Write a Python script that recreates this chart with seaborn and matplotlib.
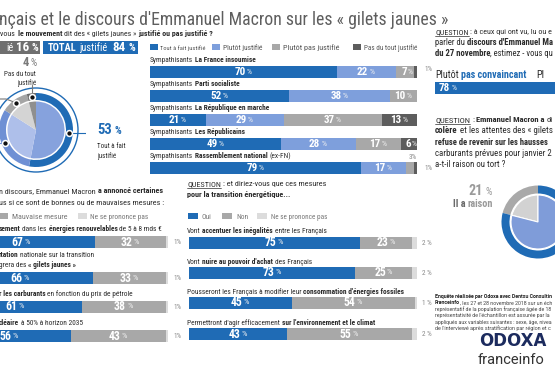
import numpy as np
import pandas as pd
import matplotlib
matplotlib.use("Agg")
import matplotlib.pyplot as plt
import seaborn as sns
from matplotlib import font_manager as fm
from matplotlib.patches import Rectangle, Circle
from matplotlib.lines import Line2D
from matplotlib.transforms import offset_copy

# ---------------- data ----------------
pie_labels = ["Tout à fait justifié", "Plutôt justifié", "Plutôt pas justifié", "Pas du tout justifié"]
pie_values = [53, 31, 12, 4]
total_justifie = 84
total_pas_justifie = 16

parties = ["La France insoumise", "Parti socialiste", "La République en marche",
           "Les Républicains", "Rassemblement national"]
party_tout = [70, 52, 21, 49, 79]
party_plutot = [22, 38, 29, 28, 17]
party_plutot_pas = [7, 10, 37, 17, 3]
party_pas_du_tout = [1, 0, 13, 6, 1]

mesures = ["renouvelables", "concertation", "carburants", "nucleaire"]
mesures_bonne = [67, 66, 61, 56]
mesures_mauvaise = [32, 33, 38, 43]
mesures_nsp = [1, 1, 1, 1]

transition = ["inegalites", "pouvoir", "fossiles", "climat"]
transition_oui = [75, 73, 45, 43]
transition_non = [23, 25, 54, 55]
transition_nsp = [2, 2, 1, 2]

convaincant_pas = [78]
raison_labels = ["Il a raison", "Il a tort"]
raison_values = [21, 79]

# ---------------- style ----------------
sns.set_style("white")
all_fonts = fm.fontManager.ttflist
names = {f.name for f in all_fonts}


def _wnum(w):
    if isinstance(w, (int, float)):
        return w
    return fm.weight_dict.get(str(w), 400)


def has_bold(n):
    return any(f.name == n and _wnum(f.weight) >= 600 for f in all_fonts)


def has_regular(n):
    return any(f.name == n and 350 <= _wnum(f.weight) <= 500 and f.style == "normal" for f in all_fonts)


preferred = ["Liberation Sans Narrow", "DejaVu Sans Condensed", "Noto Sans Condensed",
             "Roboto Condensed", "Open Sans Condensed", "Ubuntu Condensed"]
others = sorted({f.name for f in all_fonts if ("Narrow" in f.name or "Condensed" in f.name)})
FONT = None
for n in preferred + others:
    if n in names and has_bold(n) and has_regular(n):
        FONT = n
        break
if FONT is None:
    FONT = "Roboto" if "Roboto" in names else "Liberation Sans"
WIDE = "Roboto" if "Roboto" in names else "DejaVu Sans"
plt.rcParams["font.family"] = [FONT, "DejaVu Sans"]

BLUE = "#1f6bb5"
MBLUE = "#7e9fdc"
GRAY = "#a8a8a8"
DGRAY = "#5d5d5d"
LGRAY = "#dcdcdc"
TXT = "#2b2b2b"
PGRAY = "#8a8a8a"

W, H = 555, 370
fig = plt.figure(figsize=(W / 100, H / 100), dpi=100)
fig.patch.set_facecolor("white")
R = fig.canvas.get_renderer()


def axes_px(x0, y0, x1, y1):
    return fig.add_axes([x0 / W, 1 - y1 / H, (x1 - x0) / W, (y1 - y0) / H])


def rect_px(x0, y0, x1, y1, color):
    fig.add_artist(Rectangle((x0 / W, 1 - y1 / H), (x1 - x0) / W, (y1 - y0) / H,
                             transform=fig.transFigure, facecolor=color, edgecolor="none"))


def _w(t):
    return t.get_window_extent(R).width


_sw_cache = {}


def space_w(size, weight, fam):
    key = (round(size, 3), weight, str(fam))
    if key not in _sw_cache:
        a = fig.text(0, 0, "a a", fontsize=size, fontweight=weight, family=fam)
        b = fig.text(0, 0, "aa", fontsize=size, fontweight=weight, family=fam)
        _sw_cache[key] = _w(a) - _w(b)
        a.remove()
        b.remove()
    return _sw_cache[key]


def rich(x, y, parts, size, tw=None, ha="left", va="baseline", family=None, dry=False):
    """parts: (text, weight, color[, options]); x, y in pixels (y from top, baseline)."""
    fam = family if family is not None else [FONT, "DejaVu Sans"]

    def draw(sz, x0):
        objs = []
        cx = x0
        for p in parts:
            s, wt, col = p[0], p[1], p[2]
            opt = p[3] if len(p) > 3 else {}
            fs = sz * opt.get("scale", 1.0)
            sw = space_w(fs, wt, fam)
            lead = len(s) - len(s.lstrip(" "))
            trail = len(s) - len(s.rstrip(" "))
            core = s.strip(" ")
            cx += lead * sw
            if core:
                t = fig.text(cx / W, 1 - y / H, core, fontsize=fs, fontweight=wt,
                             color=col, va=va, ha="left", family=fam)
                objs.append(t)
                wd = _w(t)
                if opt.get("underline"):
                    ln = Line2D([cx / W, (cx + wd) / W], [1 - (y + 1.6) / H] * 2,
                                transform=fig.transFigure, color=col, lw=0.5)
                    fig.add_artist(ln)
                    objs.append(ln)
                cx += wd
            cx += trail * sw
        return objs, cx - x0

    objs, width = draw(size, x)
    if tw is not None:
        for o in objs:
            o.remove()
        size = size * tw / width
        objs, width = draw(size, x)
    if ha != "left" or dry:
        for o in objs:
            o.remove()
        if not dry:
            x0 = x - width if ha == "right" else x - width / 2
            objs, width = draw(size, x0)
    return size


def stacked(rect, cats, series, colors, bar_w=1.0):
    ax = axes_px(*rect)
    cums = np.cumsum(np.array(series, dtype=float), axis=0)
    for k in range(len(series) - 1, -1, -1):
        sns.barplot(x=cums[k], y=cats, order=cats, orient="h", color=colors[k],
                    saturation=1, width=bar_w, errorbar=None, linewidth=0, ax=ax)
    ax.set_xlim(0, 100)
    ax.set_ylim(len(cats) - 0.5, -0.5)
    ax.axis("off")
    return ax, cums


def pct_label(ax, xval, yval, v, fs, ha="center"):
    """number in bold with a smaller, lighter percent sign"""
    if ha == "center":
        dn, dp = 2.0, 3.0
        ha_n = "right"
    else:
        dn, dp = 0.0, None
        ha_n = "left"
    tn = ax.text(xval, yval, f"{v}", ha=ha_n, va="center", color="white", fontsize=fs,
                 fontweight="bold", transform=offset_copy(ax.transData, fig=fig, x=dn, y=0, units="dots"))
    if dp is None:
        dp = dn + _w(tn) + 1.5
    ax.text(xval, yval, "%", ha="left", va="center", color="#f0f0f0", fontsize=fs * 0.72,
            transform=offset_copy(ax.transData, fig=fig, x=dp, y=0.5, units="dots"))


def inside_labels(ax, series, cums, thresh, fs):
    for k, s in enumerate(series):
        for i, v in enumerate(s):
            if v >= thresh:
                start = cums[k][i] - v
                pct_label(ax, start + v / 2, i, v, fs)


# ---------------- title ----------------
rich(-1, 25, [("nçais et le discours d'Emmanuel Macron sur les « gilets jaunes »", "normal", "#5e5e5e")],
     16, tw=449)
rich(-1, 36, [("-vous ", "normal", TXT), ("le mouvement", "bold", TXT),
              (" dit des « gilets jaunes » ", "normal", TXT),
              ("justifié ou pas justifié ?", "bold", TXT)], 6.5, tw=214)

# ---------------- totals boxes ----------------
rect_px(-2, 41, 40, 54, "#6f6f6f")
rich(38, 51, [("ié ", "normal", "white"), (str(total_pas_justifie), "bold", "white", {"scale": 1.25}),
              (" %", "bold", "white")], 7.5, ha="right")
rect_px(43, 41, 138, 54, BLUE)
rich(48, 51, [("TOTAL", "bold", "white"), (" justifié", "normal", "white")], 7.5)
rich(135, 51, [(str(total_justifie), "bold", "white", {"scale": 1.25}), (" %", "bold", "white")],
     7.5, ha="right")

# ---------------- legend top ----------------
leg_items = [(150, 160, 205, BLUE), (212, 223, 263, MBLUE), (272, 283, 340, GRAY), (353, 364, 417, DGRAY)]
for (sx, tx, tx1, col), lab in zip(leg_items, pie_labels):
    rect_px(sx, 44, sx + 8, 50, col)
    rich(tx, 50, [(lab, "normal", "#555555")], 5.5, tw=tx1 - tx)

# ---------------- left donut ----------------
cx, cy = 36, 130
axp = axes_px(cx - 50, cy - 50, cx + 50, cy + 50)
inner_cols = ["#86a2dd", "#aebfea", "#d4d4d4", "#8f8f8f"]
ring_cols = [BLUE, "#6f90d4", "#a5a5a5", "#6b6b6b"]
axp.pie(pie_values, radius=28.5, startangle=90, counterclock=False, colors=inner_cols,
        wedgeprops=dict(linewidth=0))
axp.pie(pie_values, radius=37, startangle=90, counterclock=False, colors=ring_cols,
        wedgeprops=dict(width=7, linewidth=0))
axp.add_patch(Circle((0, 0), 42, fill=False, ec=BLUE, lw=1.0))
cum_before = np.cumsum([0] + pie_values[:-1])
mid = [(c + v / 2) / 100 * 2 * np.pi for c, v in zip(cum_before, pie_values)]
rm = 33.5
pts = [(rm * np.sin(a), rm * np.cos(a)) for a in mid]
axp.plot([pts[0][0], 57], [pts[0][1], pts[0][1]], color=BLUE, lw=0.8)
axp.plot([pts[3][0], pts[3][0]], [pts[3][1], pts[3][1] + 12], color="#777777", lw=0.8)
axp.plot([pts[2][0], -30, -50], [pts[2][1], 31, 31], color="#777777", lw=0.8)
axp.plot([pts[1][0], -50], [pts[1][1], pts[1][1]], color="#6f90d4", lw=0.8)
for (px, py) in pts:
    axp.plot(px, py, marker="o", ms=4.2, mfc="#111111", mec="white", mew=1.1)
axp.set_xlim(-50, 50)
axp.set_ylim(-50, 50)
axp.set_aspect("equal")
axp.axis("off")

rich(37, 66, [(str(pie_values[3]), "bold", "#7a7a7a", {"scale": 1.3}), (" %", "normal", "#7a7a7a")],
     7, ha="right")
pl = rich(36, 76, [("Pas du tout", "normal", TXT)], 6.5, tw=32, dry=True)
rich(36, 76, [("Pas du tout", "normal", TXT)], pl, ha="right")
rich(36, 85, [("justifié", "normal", TXT)], pl, ha="right")
rich(97, 134, [(str(pie_values[0]), "bold", BLUE, {"scale": 1.4}), (" %", "bold", BLUE)], 7.5)
rich(97, 148, [("Tout à fait", "normal", TXT)], pl)
rich(97, 158, [("justifié", "normal", TXT)], pl)

# ---------------- party bars ----------------
party_series = [party_tout, party_plutot, party_plutot_pas, party_pas_du_tout]
axb, cums = stacked((150, 60, 417, 180), parties, party_series, [BLUE, MBLUE, GRAY, DGRAY], 0.46)
inside_labels(axb, party_series, cums, 5, 8)
party_label_parts = [
    [("Sympathisants ", "normal", TXT), (parties[0], "bold", TXT)],
    [("Sympathisants ", "normal", TXT), (parties[1], "bold", TXT)],
    [("Sympathisants ", "normal", TXT), (parties[2], "bold", TXT)],
    [("Sympathisants ", "normal", TXT), (parties[3], "bold", TXT)],
    [("Sympathisants ", "normal", TXT), (parties[4], "bold", TXT), (" (ex-FN)", "normal", TXT)],
]
psize = rich(150, 62, party_label_parts[0], 6, tw=105)
for i in range(1, 5):
    rich(150, 62 + 24 * i, party_label_parts[i], psize)
rich(424, 71, [(f"{party_pas_du_tout[0]}%", "normal", PGRAY)], 5.2)
rich(417, 159, [(f"{party_plutot_pas[4]}%", "normal", PGRAY)], 5.2, ha="right")
rich(424, 170, [(f"{party_pas_du_tout[4]}%", "normal", PGRAY)], 5.2)

# ---------------- right column ----------------
RX = 435
EDGE = 553
rich(RX, 34, [("QUESTION", "normal", TXT, {"underline": True}),
              (" : à ceux qui ont vu, lu ou e", "normal", TXT)], 6.5, tw=EDGE - RX)
rich(RX, 45, [("parler du ", "normal", TXT), ("discours d'Emmanuel Ma", "bold", TXT)], 6.5, tw=EDGE - RX)
rich(RX, 56, [("du 27 novembre", "bold", TXT), (", estimez - vous qu", "normal", TXT)], 6.5, tw=EDGE - RX)
rich(RX, 78, [("Plutôt ", "normal", TXT), ("pas convaincant", "bold", BLUE)], 7.5, tw=90)
rich(RX + 101, 78, [("Pl", "normal", TXT)], 7.5)
axc, cc = stacked((RX, 82, RX + 170, 94), ["pas"], [convaincant_pas], [BLUE])
pct_label(axc, 2.0, 0, convaincant_pas[0], 8, ha="left")

q2 = rich(RX, 156, [("carburants prévues pour janvier 2", "normal", TXT)], 6.5, tw=EDGE - RX)
rich(RX, 122, [("QUESTION", "normal", TXT, {"underline": True}), (" : ", "normal", TXT),
               ("Emmanuel Macron a", "bold", TXT), (" di", "normal", TXT)], 6.5, tw=EDGE - RX)
rich(RX, 133, [("colère", "bold", TXT), (" et les attentes des « gilets", "normal", TXT)], 6.5, tw=EDGE - RX)
rich(RX, 145, [("refuse de revenir sur les hausses", "bold", TXT)], 6.5, tw=EDGE - RX - 4)
rich(RX, 167, [("a-t-il raison ou tort ?", "normal", TXT)], q2)

# right pie
pcx, pcy = 538, 222
axr = axes_px(pcx - 45, pcy - 45, pcx + 45, pcy + 45)
axr.pie(raison_values, radius=27, startangle=90, counterclock=True,
        colors=["#d2d2d2", "#7f9cd9"], wedgeprops=dict(linewidth=0.8, edgecolor="white"))
axr.pie(raison_values, radius=36.5, startangle=90, counterclock=True,
        colors=["#a9a9a9", BLUE], wedgeprops=dict(width=8, linewidth=0))
axr.set_xlim(-45, 45)
axr.set_ylim(-45, 45)
axr.set_aspect("equal")
axr.axis("off")
rich(492, 195, [(str(raison_values[0]), "bold", "#9a9a9a", {"scale": 1.35}), (" %", "normal", "#9a9a9a")],
     7.5, ha="right")
rich(493, 207, [("Il a ", "bold", "#6a6a6a"), ("raison", "bold", "#9a9a9a")], 8.5, tw=40, ha="right")

# footer
foot = [
    [("Enquête réalisée par Odoxa avec Dentsu Consultin", "bold", "#222222")],
    [("Franceinfo", "bold", "#222222"), (", les 27 et 28 novembre 2018 sur un éch", "normal", "#444444")],
    [("représentatif de la population française âgée de 18", "normal", "#444444")],
    [("représentativité de l'échantillon est assurée par la", "normal", "#444444")],
    [("appliqués aux variables suivantes : sexe, âge, nivea", "normal", "#444444")],
    [("de l'interviewé après stratification par région et c", "normal", "#444444")],
]
for i, parts in enumerate(foot):
    rich(RX, 298 + 6.4 * i, parts, 3.6, tw=EDGE - 1 - RX, family=[WIDE, "DejaVu Sans"])
rich(479, 346, [("ODOXA", "bold", "#1c2b5e")], 12, family=["DejaVu Sans"])
rich(478, 364, [("franceinfo", "normal", "#333333")], 10.5, family=[WIDE, "DejaVu Sans"])

# ---------------- bottom left: mesures ----------------
bl = rich(-1, 193, [("n discours, Emmanuel Macron ", "normal", TXT), ("a annoncé certaines", "bold", TXT)],
          6.5, tw=166)
rich(-1, 205, [("us si ce sont de bonnes ou de mauvaises mesures :", "normal", TXT)], bl)
rect_px(0, 213, 8, 219, GRAY)
rich(12, 219, [("Mauvaise mesure", "normal", "#777777")], 5.5, tw=55)
rect_px(78, 213, 87, 219, LGRAY)
rich(90, 219, [("Ne se prononce pas", "normal", "#777777")], 5.5, tw=57)

mes_labels = [
    (231, [("sement", "bold", TXT), (" dans les ", "normal", TXT), ("énergies renouvelables", "bold", TXT),
           (" de 5 à 8 mds €", "normal", TXT)]),
    (257, [("rtation", "bold", TXT), (" nationale sur la transition", "normal", TXT)]),
    (267, [("grera des ", "normal", TXT), ("« gilets jaunes »", "bold", TXT)]),
    (296, [("r les carburants", "bold", TXT), (" en fonction du prix de pétrole", "normal", TXT)]),
    (325, [("cléaire", "bold", TXT), (" à 50% à horizon 2035", "normal", TXT)]),
]
ms = rich(-1, mes_labels[0][0], mes_labels[0][1], 6, tw=164)
for y, parts in mes_labels[1:]:
    rich(-1, y, parts, ms)
mes_rows = [242, 278, 307, 336]
for i, yc in enumerate(mes_rows):
    ser = [[mesures_bonne[i]], [mesures_mauvaise[i]], [mesures_nsp[i]]]
    ax_, cm = stacked((-52, yc - 6, 168, yc + 6), [mesures[i]], ser, [BLUE, GRAY, LGRAY])
    inside_labels(ax_, ser, cm, 5, 8.5)
    rich(173, yc + 2, [(f"{mesures_nsp[i]}%", "normal", PGRAY)], 5.2)

# ---------------- bottom middle: transition ----------------
mq = rich(187, 186, [("QUESTION", "normal", TXT, {"underline": True}),
                     (" : et diriez-vous que ces mesures", "normal", TXT)], 6.5, tw=138)
rich(187, 197, [("pour la transition énergétique...", "bold", TXT)], mq)
rect_px(188, 213, 198, 219, BLUE)
rich(202, 219, [("Oui", "normal", "#777777")], 5.5, tw=10)
rect_px(222, 213, 232, 219, GRAY)
rich(236, 219, [("Non", "normal", "#777777")], 5.5, tw=12)
rect_px(257, 213, 267, 219, LGRAY)
rich(271, 219, [("Ne se prononce pas", "normal", "#777777")], 5.5, tw=56)

tr_labels = [
    (233, [("Vont ", "normal", TXT), ("accentuer les inégalités", "bold", TXT), (" entre les Français", "normal", TXT)]),
    (264, [("Vont ", "normal", TXT), ("nuire au pouvoir d'achat", "bold", TXT), (" des Français", "normal", TXT)]),
    (294, [("Pousseront les Français à modifier leur ", "normal", TXT),
           ("consommation d'énergies fossiles", "bold", TXT)]),
    (325, [("Permettront d'agir efficacement ", "normal", TXT),
           ("sur l'environnement et le climat", "bold", TXT)]),
]
ts = rich(187, tr_labels[2][0], tr_labels[2][1], 6, tw=215)
for j, (y, parts) in enumerate(tr_labels):
    if j != 2:
        rich(187, y, parts, ts)
tr_rows = [243, 273, 303, 334]
for i, yc in enumerate(tr_rows):
    ser = [[transition_oui[i]], [transition_non[i]], [transition_nsp[i]]]
    ax_, cm = stacked((189, yc - 6, 417, yc + 6), [transition[i]], ser, [BLUE, GRAY, LGRAY])
    inside_labels(ax_, ser, cm, 5, 8.5)
    rich(422, yc + 2, [(f"{transition_nsp[i]} %", "normal", PGRAY)], 5.2)

fig.savefig("out.png", dpi=100, facecolor="white")
